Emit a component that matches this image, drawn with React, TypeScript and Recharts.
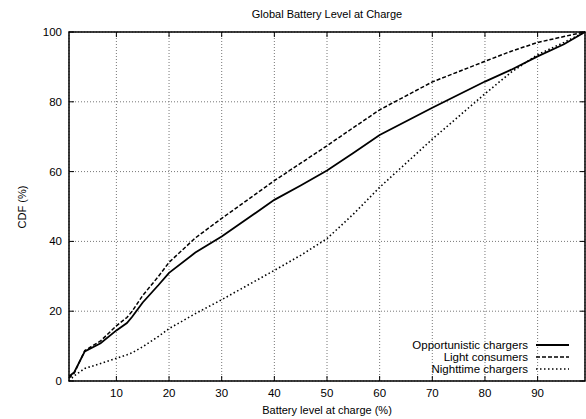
import { LineChart, Line, XAxis, YAxis, CartesianGrid, ReferenceArea, Legend } from 'recharts';

// battery level (%) at which the CDF was read
const batteryLevel = [1, 2, 4, 7, 10, 12, 13, 15, 18, 20, 25, 30, 40, 45, 50, 55, 60, 70, 80, 85, 90, 95, 99];
const opportunistic = [1.3, 2.5, 8.5, 10.8, 14.5, 16.6, 18.4, 22.5, 27.5, 31, 36.8, 41.4, 51.9, 56, 60.3, 65.3, 70.5, 78.3, 85.8, 89.2, 93, 96.5, 100];
const lightConsumers = [0.8, 2.3, 8.7, 11.5, 15.8, 18.2, 20, 24.5, 30, 34, 41, 46.6, 57.4, 62.4, 67.4, 72.6, 77.7, 85.7, 91.6, 94.5, 97, 98.7, 100];
const nighttime = [0, 1.5, 3.6, 5, 6.5, 7.5, 8.1, 9.8, 12.8, 15, 19.3, 23.3, 31.7, 36, 40.8, 47.8, 55.5, 69.3, 82.3, 88.5, 93.5, 97, 100];

const xTicks = [10, 20, 30, 40, 50, 60, 70, 80, 90];
const yTicks = [0, 20, 40, 60, 80, 100];

const series = [
  { key: 'opportunistic', name: 'Opportunistic chargers', width: 1.8, dash: undefined },
  { key: 'light', name: 'Light consumers', width: 1.5, dash: '4 2' },
  { key: 'night', name: 'Nighttime chargers', width: 1.6, dash: '1.5 2.5' },
];

const data = batteryLevel.map((level, i) => ({
  level,
  opportunistic: opportunistic[i],
  light: lightConsumers[i],
  night: nighttime[i],
}));

const W = 586;
const H = 419;
const TOP = 32;
const LEFT = 69;
const RIGHT = 1;
const XAXIS_H = 38;
const PLOT_BOTTOM = H - XAXIS_H;
const PLOT_RIGHT = W - RIGHT;
const FONT = '"Liberation Sans", Arial, sans-serif';
const FS = 11.5;

function XTick({ x, payload }: any) {
  return (
    <g>
      <line x1={x} x2={x} y1={PLOT_BOTTOM} y2={PLOT_BOTTOM - 5} stroke="#000" />
      <line x1={x} x2={x} y1={TOP} y2={TOP + 5} stroke="#000" />
      <text x={x} y={PLOT_BOTTOM + 16} textAnchor="middle" fontSize={FS} fontFamily={FONT} fill="#000">
        {payload.value}
      </text>
    </g>
  );
}

function YTick({ y, payload }: any) {
  return (
    <g>
      <line x1={LEFT} x2={LEFT + 5} y1={y} y2={y} stroke="#000" />
      <line x1={PLOT_RIGHT} x2={PLOT_RIGHT - 5} y1={y} y2={y} stroke="#000" />
      <text x={LEFT - 7} y={y + 4} textAnchor="end" fontSize={FS} fontFamily={FONT} fill="#000">
        {payload.value}
      </text>
    </g>
  );
}

function KeyBox() {
  return (
    <div style={{ fontFamily: FONT, fontSize: FS }}>
      {series.map((s) => (
        <div key={s.key} style={{ display: 'flex', justifyContent: 'flex-end', alignItems: 'center', height: 12, paddingRight: 10 }}>
          <span style={{ lineHeight: '12px', whiteSpace: 'nowrap' }}>{s.name}</span>
          <svg width={34} height={12} style={{ marginLeft: 8 }}>
            <line x1={0} x2={33} y1={6} y2={6} stroke="#000" strokeWidth={s.width} strokeDasharray={s.dash} />
          </svg>
        </div>
      ))}
    </div>
  );
}

const label = (left: number, top: number, rotate = 0): React.CSSProperties => ({
  position: 'absolute',
  left,
  top,
  transform: `translate(-50%, -50%) rotate(${rotate}deg)`,
  whiteSpace: 'nowrap',
  fontFamily: FONT,
  fontSize: 11,
  color: '#000',
});

export default function App() {
  return (
    <div style={{ position: 'absolute', left: 0, top: 0, width: W, height: H, background: '#fff' }}>
      <LineChart width={W} height={H} data={data} margin={{ top: TOP, right: RIGHT, bottom: 0, left: 0 }}>
        <CartesianGrid stroke="#777" strokeDasharray="1 2" />
        <XAxis
          dataKey="level"
          type="number"
          domain={[1, 99]}
          ticks={xTicks}
          height={XAXIS_H}
          axisLine={false}
          tickLine={false}
          tick={<XTick />}
          interval={0}
        />
        <YAxis
          type="number"
          domain={[0, 100]}
          ticks={yTicks}
          width={LEFT}
          axisLine={false}
          tickLine={false}
          tick={<YTick />}
          interval={0}
        />
        {series.map((s) => (
          <Line
            key={s.key}
            dataKey={s.key}
            name={s.name}
            type="linear"
            stroke="#000"
            strokeWidth={s.width}
            strokeDasharray={s.dash}
            dot={false}
            activeDot={false}
            isAnimationActive={false}
          />
        ))}
        <ReferenceArea x1={1} x2={99} y1={0} y2={100} fill="none" stroke="#000" strokeWidth={1.5} />
        <Legend
          layout="vertical"
          align="center"
          verticalAlign="middle"
          content={<KeyBox />}
          wrapperStyle={{ position: 'absolute', left: 380, top: 339, width: 200, height: 36 }}
        />
      </LineChart>
      <div style={label(327, 14)}>Global Battery Level at Charge</div>
      <div style={label(327, 410)}>Battery level at charge (%)</div>
      <div style={label(22, 207, -90)}>CDF (%)</div>
    </div>
  );
}
